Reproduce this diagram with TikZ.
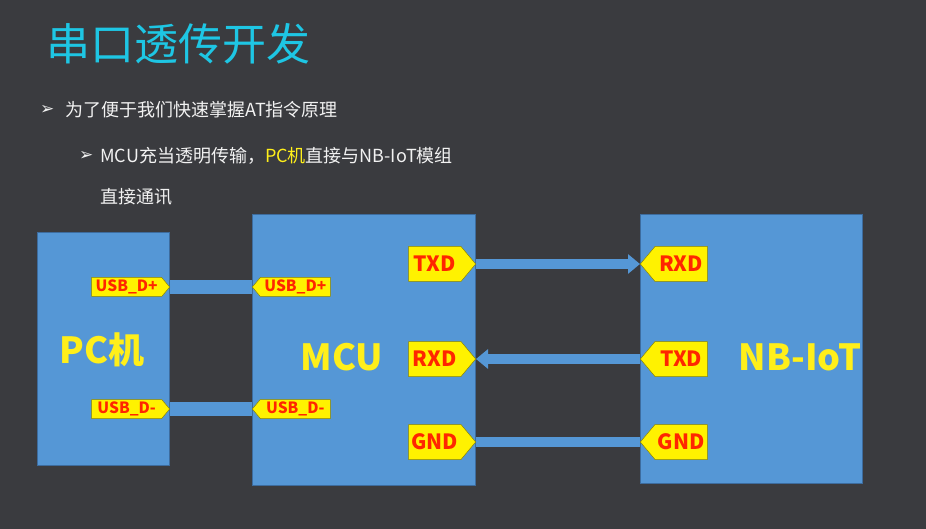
\documentclass[tikz,border=0pt]{standalone}
\usepackage{fontspec}
\setmainfont{Noto Sans CJK SC}
\newfontfamily\symfont{DejaVu Sans}
\usetikzlibrary{positioning, arrows.meta, shapes.symbols}
\definecolor{slidebg}{HTML}{3A3B3F}
\definecolor{titlecyan}{HTML}{1EC6E4}
\definecolor{boxblue}{HTML}{5597D6}
\definecolor{boxedge}{HTML}{3D6C9E}
\definecolor{tagyellow}{HTML}{FFF200}
\definecolor{tagred}{HTML}{FF2600}
\definecolor{labyellow}{HTML}{FFEF1A}
\definecolor{bodytext}{HTML}{F2F2F2}

\begin{document}
\begin{tikzpicture}[x=1pt, y=-1pt,
    block/.style={draw=boxedge, fill=boxblue, line width=0.8pt, inner sep=0pt},
    blocktext/.style={text=labyellow, font=\fontsize{36}{40}\selectfont\bfseries},
    bodyline/.style={anchor=west, text=bodytext, inner sep=0pt, font=\fontsize{18}{20}\selectfont},
    bulletmark/.style={anchor=west, text=bodytext, inner sep=0pt, font=\symfont\fontsize{17}{18}\selectfont\bfseries},
    pin/.style={signal, fill=tagyellow, draw=tagyellow!55!black, line width=0.5pt, text=tagred, inner sep=0pt, signal pointer angle=100},
    pinR/.style={pin, signal to=east, anchor=east},
    pinL/.style={pin, signal to=west, anchor=west},
    usbpin/.style={minimum width=78pt, minimum height=19pt, font=\fontsize{15.5}{15.5}\selectfont\bfseries},
    uartpin/.style={minimum width=67pt, minimum height=35pt, font=\fontsize{21}{21}\selectfont\bfseries},
    bus/.style={draw=boxblue, line width=14pt},
    wire/.style={draw=boxblue, line width=10pt, -{Triangle[length=12pt, width=19pt]}}]
  \fill[slidebg] (0,0) rectangle (926,529);
  \useasboundingbox (0,0) rectangle (926,529);
  % heading and bullets
  \node[anchor=west, inner sep=0pt, text=titlecyan, font=\fontsize{44}{48}\selectfont] (title) at (46,44) {串口透传开发};
  \node[bulletmark] (m1) at (40,110) {➢};
  \node[bodyline] (l1) at (65,110) {为了便于我们快速掌握AT指令原理};
  \node[bulletmark] (m2) at (79,156) {➢};
  \node[bodyline] (l2) at (100,156) {MCU充当透明传输，\textcolor{labyellow}{PC机}直接与NB-IoT模组};
  \node[bodyline] (l3) at (100,197) {直接通讯};
  % blocks
  \node[block, minimum width=132pt, minimum height=233pt] (pc) at (103,348.5) {};
  \node[block, minimum width=223pt, minimum height=271pt] (mcu) at (363.5,349.5) {};
  \node[block, minimum width=222pt, minimum height=269pt] (nb) at (751,348.5) {};
  \node[blocktext] (pclab) at (102,350) {PC机};
  \node[blocktext] (mculab) at (342,357) {MCU};
  \node[blocktext] (nblab) at (800,357) {NB-IoT};
  % usb bars
  \path[bus] (170,287) coordinate (pcdpx) -- (252,287) coordinate (mcudpx);
  \path[bus] (170,409) coordinate (pcdmx) -- (252,409) coordinate (mcudmx);
  % pins
  \node[pinR, usbpin] (pcdp) at (pcdpx) {USB\_D+};
  \node[pinR, usbpin] (pcdm) at (pcdmx) {USB\_D-};
  \node[pinL, usbpin] (mcudp) at (mcudpx) {USB\_D+};
  \node[pinL, usbpin] (mcudm) at (mcudmx) {USB\_D-};
  \node[pinR, uartpin] (mtxd) at (476,264) {TXD};
  \node[pinR, uartpin] (mrxd) at (476,359) {RXD};
  \node[pinR, uartpin] (mgnd) at (476,442) {GND};
  \node[pinL, uartpin] (nrxd) at (640,264) {RXD};
  \node[pinL, uartpin] (ntxd) at (640,359) {TXD};
  \node[pinL, uartpin] (ngnd) at (640,442) {GND};
  % uart lines
  \draw[wire] (mtxd.east) -- (nrxd.west);
  \draw[wire] (ntxd.west) -- (mrxd.east);
  \draw[bus, line width=10pt] (mgnd.east) -- (ngnd.west);
\end{tikzpicture}
\end{document}
